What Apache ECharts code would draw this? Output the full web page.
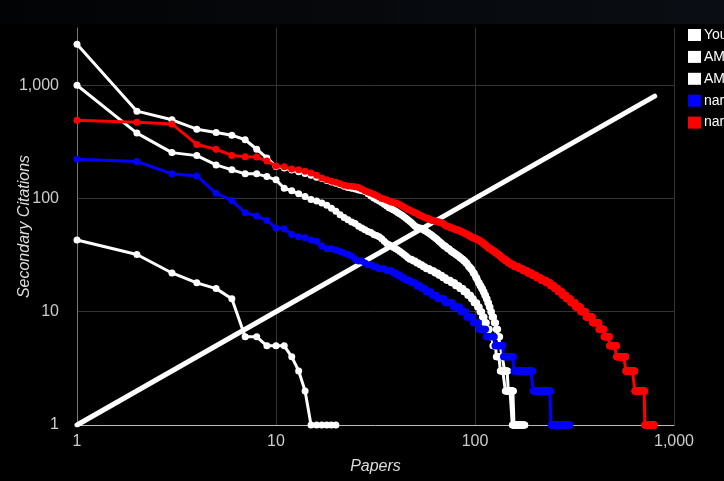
<!DOCTYPE html>
<html><head><meta charset="utf-8">
<script src="https://cdn.jsdelivr.net/npm/echarts@6/dist/echarts.min.js"></script>
<style>html,body{margin:0;padding:0;background:#000;overflow:hidden}#c{width:724px;height:481px}</style>
</head><body><div id="c"></div>
<script>
// Legend names (text is cut off at the right edge in the reference)
const seriesNames = ['Your papers', 'AMS Fellow 1', 'AMS Fellow 2', 'narrow field 1', 'narrow field 2'];
const xTicks = [1, 10, 100, 1000];
const yTicks = [1, 10, 100, 1000];

// Citations per paper, sorted descending (rank 1, 2, 3, ...); runs are [citations, number of papers]
const youCites = [43, 32, 22, 18, 16, 13, 6, 6, 5, 5, 5, 4, 3, 2, 1, 1, 1, 1, 1, 1];
const youRuns = [];

const fellowACites = [2300, 590, 495, 409, 382, 362, 330, 272, 228, 192,
  186, 178, 172, 166, 160, 154, 150, 144, 140, 136,
  132, 128, 125, 123, 121, 119, 117, 115, 110, 105,
  101, 98, 95, 92, 89, 86, 83, 81, 79, 77,
  75, 73, 71, 69, 67, 65, 63, 61, 59, 57,
  56, 55, 55];
const fellowARuns = [[54,1],[53,1],[52,1],[51,1],[50,1],[49,1],[48,1],[47,1],[46,1],[45,1],[44,1],[43,1],[42,1],[41,1],[40,1],[39,1],
  [38,2],[37,1],[36,2],[35,1],[34,2],[33,2],[32,2],[31,2],[30,2],[29,2],[28,2],[27,2],[26,1],[25,2],[24,2],[23,1],[22,2],[21,1],
  [20,2],[19,1],[18,2],[17,2],[16,2],[15,2],[14,2],[13,2],[12,2],[11,2],[10,2],[9,3],[8,3],[7,3],[6,3],[5,3],[4,4],[3,6],[2,10],[1,22]];

const fellowBCites = [1000, 378, 254, 239, 198, 179, 165, 165, 156, 146,
  123, 117, 110, 104, 98, 95, 91, 87, 82, 77,
  72, 68, 65, 62, 60, 57, 55, 53, 51, 50,
  48, 47, 46, 44, 42, 40, 39, 38, 37];
const fellowBRuns = [[36,1],[35,1],[34,1],[33,1],[32,1],[31,1],[30,1],[29,2],[28,2],[27,2],[26,2],[25,2],[24,3],[23,3],[22,3],
  [21,3],[20,3],[19,4],[18,4],[17,4],[16,4],[15,4],[14,4],[13,3],[12,4],[11,3],[10,3],[9,3],[8,3],[7,4],[6,4],[5,5],[4,6],[3,8],[2,12],[1,10]];

const blueCites = [222, 212, 165, 158, 111, 96, 75, 70, 64, 55,
  54, 48, 46, 45, 43, 42, 38, 36, 36, 35,
  34, 33, 32, 31, 29, 28, 28, 27];
const blueRuns = [[26,2],[25,2],[24,3],[23,3],[22,2],[21,2],[20,2],[19,3],[18,3],[17,3],[16,3],[15,4],[14,4],[13,6],[12,7],
  [11,7],[10,6],[9,7],[8,7],[7,9],[6,12],[5,13],[4,18],[3,39],[2,45],[1,60]];

const redCites = [490, 470, 455, 300, 272, 240, 234, 232, 214, 194,
  191, 182, 179, 174, 168, 160, 152, 146, 142, 139,
  135, 131, 129, 128, 127, 125, 121, 117, 114, 112,
  109, 106, 103, 100, 99, 97, 95, 93, 92, 91,
  90, 88, 86, 84, 82, 80, 79, 77, 76, 75,
  74, 72, 71, 70, 69, 68, 67, 67, 66, 65];
const redRuns = [[64,2],[63,2],[62,2],[61,2],[60,1],[59,1],[58,1],[57,2],[56,2],[55,2],[54,2],[53,3],
  [52,2],[51,2],[50,2],[49,2],[48,2],[47,2],[46,2],[45,3],[44,3],[43,3],[42,2],[41,2],[40,2],
  [39,2],[38,2],[37,2],[36,3],[35,3],[34,3],[33,3],[32,3],[31,3],[30,3],
  [29,4],[28,4],[27,5],[26,6],[25,9],[24,8],[23,9],[22,10],[21,10],[20,11],
  [19,13],[18,12],[17,11],[16,11],[15,13],[14,13],[13,15],[12,17],[11,20],
  [10,22],[9,28],[8,30],[7,26],[6,29],[5,40],[4,58],[3,63],[2,78],[1,82]];

// Reference line y = x
const diagX = [1, 800];
const diagY = [1, 800];

function rankPoints(top, runs) {
  const pts = [];
  let r = 1;
  top.forEach(v => pts.push([r++, v]));
  runs.forEach(([v, n]) => { for (let i = 0; i < n; i++) pts.push([r++, v]); });
  return pts;
}

const FONT = '"Liberation Sans", Arial, sans-serif';
const fmt = v => Math.round(v).toLocaleString('en-US');

function lineSeries(name, data, color, z) {
  return {
    type: 'line', name, data, z,
    symbol: 'circle', symbolSize: 7, showAllSymbol: true,
    lineStyle: { width: 3, color }, itemStyle: { color },
    emphasis: { disabled: true }, animation: false, silent: true
  };
}

const chart = echarts.init(document.getElementById('c'), null, { renderer: 'canvas' });
chart.setOption({
  backgroundColor: '#000',
  animation: false,
  graphic: [{
    type: 'rect', left: 0, top: 0, z: -10, silent: true,
    shape: { width: 724, height: 24 },
    style: { fill: new echarts.graphic.LinearGradient(0, 0, 1, 0, [{ offset: 0, color: '#020304' }, { offset: 1, color: '#0a0e14' }]) }
  }],
  grid: { left: 77, right: 50, top: 28, bottom: 56, containLabel: false, outerBoundsMode: 'none' },
  legend: {
    data: seriesNames, orient: 'vertical', left: 688, top: 28, padding: 0,
    itemWidth: 13, itemHeight: 12, itemGap: 7.9, icon: 'rect', selectedMode: false,
    textStyle: { color: '#ffffff', fontSize: 14, fontFamily: FONT, padding: [0, 0, 0, -2] }
  },
  xAxis: {
    type: 'log', logBase: 10, min: xTicks[0], max: xTicks[xTicks.length - 1],
    name: 'Papers', nameLocation: 'middle', nameGap: 34, nameMoveOverlap: false,
    nameTextStyle: { color: '#dddddd', fontSize: 16, fontStyle: 'italic', fontFamily: FONT },
    axisLine: { show: true, onZero: false, lineStyle: { color: '#bbbbbb', width: 1 } },
    axisTick: { show: false },
    axisLabel: { color: '#cccccc', fontSize: 16, fontFamily: FONT, margin: 9, formatter: fmt },
    splitLine: { show: true, lineStyle: { color: '#333333', width: 1 } },
    minorTick: { show: false }, minorSplitLine: { show: false }
  },
  yAxis: {
    type: 'log', logBase: 10, min: yTicks[0], max: 3200,
    name: 'Secondary Citations', nameLocation: 'middle', nameGap: 44, nameMoveOverlap: false,
    nameTextStyle: { color: '#dddddd', fontSize: 16, fontStyle: 'italic', fontFamily: FONT },
    axisLine: { show: true, onZero: false, lineStyle: { color: '#777777', width: 1 } },
    axisTick: { show: false },
    axisLabel: { color: '#cccccc', fontSize: 16, fontFamily: FONT, margin: 18, formatter: fmt, showMaxLabel: false },
    splitLine: { show: true, showMaxLine: false, lineStyle: { color: '#333333', width: 1 } },
    minorTick: { show: false }, minorSplitLine: { show: false }
  },
  series: [
    {
      type: 'line', name: 'h-index line', data: diagX.map((x, i) => [x, diagY[i]]), z: 1,
      symbol: 'none', lineStyle: { width: 5, color: '#ffffff', cap: 'round' },
      emphasis: { disabled: true }, animation: false, silent: true
    },
    lineSeries(seriesNames[0], rankPoints(youCites, youRuns), '#ffffff', 2),
    lineSeries(seriesNames[1], rankPoints(fellowACites, fellowARuns), '#ffffff', 2),
    lineSeries(seriesNames[2], rankPoints(fellowBCites, fellowBRuns), '#ffffff', 2),
    lineSeries(seriesNames[3], rankPoints(blueCites, blueRuns), '#0000ff', 3),
    lineSeries(seriesNames[4], rankPoints(redCites, redRuns), '#ff0000', 4)
  ]
});
</script></body></html>
